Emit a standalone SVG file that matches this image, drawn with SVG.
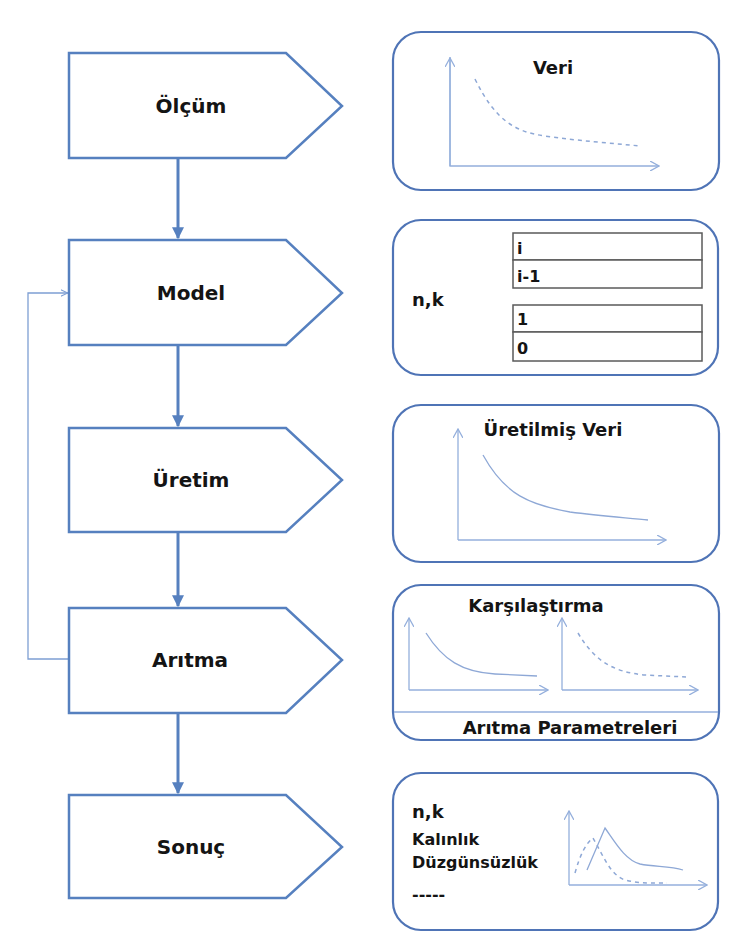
<svg xmlns="http://www.w3.org/2000/svg" width="737" height="934" viewBox="0 0 737 934">
<style>
.step{fill:#fff;stroke:#5680bf;stroke-width:2.5;stroke-linejoin:miter}
.panel{fill:#fff;stroke:#4f74b6;stroke-width:2.2}
.lbl{font-family:"DejaVu Sans",sans-serif;font-weight:bold;font-size:20px;fill:#141414;text-anchor:middle}
.ttl{font-family:"DejaVu Sans",sans-serif;font-weight:bold;font-size:18px;fill:#141414}
.sm{font-family:"DejaVu Sans",sans-serif;font-weight:bold;font-size:16px;fill:#141414}
.flow{fill:none;stroke:#5680bf;stroke-width:3}
.loop{fill:none;stroke:#7e9fd3;stroke-width:1.3}
.axis{fill:none;stroke:#94afdc;stroke-width:1.3}
.curve{fill:none;stroke:#8ea8d6;stroke-width:1.3}
.dash{fill:none;stroke:#8ea8d6;stroke-width:1.5;stroke-dasharray:4 4}
.tbl{fill:#fff;stroke:#5a5a5a;stroke-width:1.5}
</style>
<defs>
<marker id="fa" viewBox="0 0 10 10" refX="9" refY="5" markerWidth="4" markerHeight="4" orient="auto" markerUnits="strokeWidth">
<path d="M0,0 L10,5 L0,10 z" fill="#5680bf"/>
</marker>
<marker id="oa" viewBox="0 0 10 10" refX="9" refY="5" markerWidth="8" markerHeight="8" orient="auto" markerUnits="userSpaceOnUse">
<path d="M0,1 L9,5 L0,9" fill="none" stroke="#7e9fd3" stroke-width="1.3"/>
</marker>
<marker id="ax" viewBox="0 0 10 10" refX="9" refY="5" markerWidth="10" markerHeight="10" orient="auto" markerUnits="userSpaceOnUse">
<path d="M0,0 L9,5 L0,10" fill="none" stroke="#94afdc" stroke-width="1.3"/>
</marker>
</defs>
<rect width="737" height="934" fill="#fff"/>

<g id="connectors">
<line class="flow" x1="178" y1="158" x2="178" y2="238" marker-end="url(#fa)"/>
<line class="flow" x1="178" y1="345" x2="178" y2="426" marker-end="url(#fa)"/>
<line class="flow" x1="178" y1="532" x2="178" y2="606" marker-end="url(#fa)"/>
<line class="flow" x1="178" y1="713" x2="178" y2="793" marker-end="url(#fa)"/>
<path class="loop" d="M69,659 L28,659 L28,293 L68,293" marker-end="url(#oa)"/>
</g>

<g id="olcum">
<polygon class="step" points="69,53 286,53 342,106 286,158 69,158"/>
<text class="lbl" x="191" y="113">Ölçüm</text>
</g>
<g id="model">
<polygon class="step" points="69,240 286,240 342,293 286,345 69,345"/>
<text class="lbl" x="191" y="300">Model</text>
</g>
<g id="uretim">
<polygon class="step" points="69,428 286,428 342,480 286,532 69,532"/>
<text class="lbl" x="191" y="487">Üretim</text>
</g>
<g id="aritma">
<polygon class="step" points="69,608 286,608 342,660 286,713 69,713"/>
<text class="lbl" x="190" y="667">Arıtma</text>
</g>
<g id="sonuc">
<polygon class="step" points="69,795 286,795 342,847 286,898 69,898"/>
<text class="lbl" x="191" y="854">Sonuç</text>
</g>

<g id="veri">
<rect class="panel" x="393" y="32" width="326" height="158" rx="28"/>
<text class="ttl" x="553" y="74" text-anchor="middle">Veri</text>
<polyline class="axis" points="450,57 450,166 659,166" marker-end="url(#ax)"/>
<line class="axis" x1="450" y1="166" x2="450" y2="58" marker-end="url(#ax)"/>
<path class="dash" d="M475,79 C495,120 515,132 545,136 C580,141 610,143 640,146"/>
</g>

<g id="params">
<rect class="panel" x="393" y="220" width="325" height="155" rx="28"/>
<text class="ttl" x="412" y="306">n,k</text>
<rect class="tbl" x="513" y="233" width="189" height="27"/>
<rect class="tbl" x="513" y="260" width="189" height="28"/>
<rect class="tbl" x="513" y="305" width="189" height="27"/>
<rect class="tbl" x="513" y="332" width="189" height="29"/>
<text class="sm" x="517" y="254">i</text>
<text class="sm" x="517" y="282">i-1</text>
<text class="sm" x="517" y="325">1</text>
<text class="sm" x="517" y="354">0</text>
</g>

<g id="uretilmis">
<rect class="panel" x="393" y="405" width="326" height="157" rx="28"/>
<text class="ttl" x="553" y="436" text-anchor="middle">Üretilmiş Veri</text>
<polyline class="axis" points="458,540 666,540" marker-end="url(#ax)"/>
<line class="axis" x1="458" y1="540" x2="458" y2="429" marker-end="url(#ax)"/>
<path class="curve" d="M483,455 C505,495 530,505 570,512 C600,516 630,518 648,520"/>
</g>

<g id="karsilastirma">
<rect class="panel" x="393" y="585" width="326" height="155" rx="28"/>
<text class="ttl" x="536" y="612" text-anchor="middle">Karşılaştırma</text>
<polyline class="axis" points="409,690 548,690" marker-end="url(#ax)"/>
<line class="axis" x1="409" y1="690" x2="409" y2="618" marker-end="url(#ax)"/>
<path class="curve" d="M426,633 C443,660 462,672 495,674 L537,676"/>
<polyline class="axis" points="562,690 698,690" marker-end="url(#ax)"/>
<line class="axis" x1="562" y1="690" x2="562" y2="618" marker-end="url(#ax)"/>
<path class="dash" d="M578,633 C594,660 612,672 645,675 L686,677"/>
<line class="axis" x1="394" y1="712" x2="718" y2="712"/>
<text class="ttl" x="570" y="734" text-anchor="middle" font-size="17.5">Arıtma Parametreleri</text>
</g>

<g id="sonuclar">
<rect class="panel" x="393" y="773" width="325" height="157" rx="28"/>
<text class="ttl" x="412" y="818">n,k</text>
<text class="sm" x="412" y="845">Kalınlık</text>
<text class="sm" x="412" y="868">Düzgünsüzlük</text>
<text class="sm" x="412" y="900">-----</text>
<polyline class="axis" points="569,885 707,885" marker-end="url(#ax)"/>
<line class="axis" x1="569" y1="885" x2="569" y2="811" marker-end="url(#ax)"/>
<path class="curve" d="M587,870 L605,828 C615,842 625,860 640,864 C655,867 670,866 683,870"/>
<path class="dash" d="M575,873 C580,855 586,843 593,838 C603,855 610,875 625,880 C640,884 655,883 667,883"/>
</g>
</svg>
